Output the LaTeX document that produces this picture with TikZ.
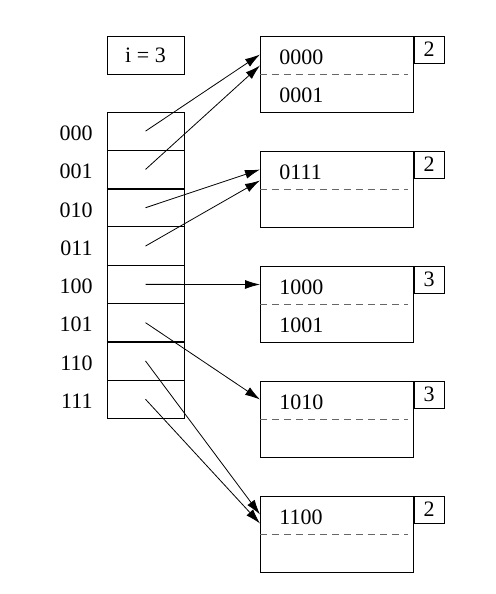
\documentclass[tikz,border=0pt]{standalone}
\usepackage{fontspec}
\setmainfont{Liberation Serif}
\usetikzlibrary{arrows.meta}

\tikzset{
  cell/.style={rectangle,draw=black,line width=0.5pt,minimum width=38.5pt,minimum height=19.15pt,inner sep=0pt},
  bucket/.style={rectangle,draw=black,line width=0.5pt,minimum width=76.25pt,minimum height=38.3pt,inner sep=0pt},
  depth/.style={rectangle,draw=black,line width=0.5pt,minimum width=15pt,minimum height=13.5pt,inner sep=0pt,anchor=north west},
  key/.style={anchor=west,inner sep=0pt},
  sep/.style={draw=black!60,dash pattern=on 3.5pt off 2.5pt,line width=0.6pt},
  ptr/.style={->,line width=0.4pt},
}

\begin{document}
\begin{tikzpicture}[x=0.5pt,y=-0.5pt,>={Latex[length=7.5pt,width=4.5pt]},font=\fontsize{11}{13}\selectfont]
  \useasboundingbox (0,0) rectangle (496,594);
  %Nodes
  \node at (145.5,55) [cell,minimum height=19pt] (global) {i = 3};
  \foreach \k [count=\r from 0] in {000,001,010,011,100,101,110,111} {
    \node at (145.5,131.15+38.3*\r) [cell] (d\k) {};
    \node at (93,133.2+38.3*\r) [anchor=east,inner sep=0pt] (l\k) {\k};
  }
  \draw[line width=1pt] (d001.south west) -- (d001.south east);
  \draw[line width=1pt] (d101.south west) -- (d101.south east);

  \foreach \b/\t/\dp/\ka/\kb in {b1/36/2/0000/0001,b2/151/2/0111/,b3/266/3/1000/1001,b4/381/3/1010/,b5/496/2/1100/} {
    \node at (336.75,\t+38.3) [bucket] (\b) {};
    \node at (\b.north east) [depth] (\b d) {\dp};
    \draw[sep] (\b.west) -- ([xshift=-3pt]\b.east);
    \node at (279,\t+21.5) [key] (\b ka) {\ka};
    \node at (279,\t+59.5) [key] (\b kb) {\kb};
  }

  %Lines
  \draw[ptr] (d000.center) to ([yshift=-9.5pt]b1.north west);
  \draw[ptr] (d001.center) to ([yshift=-15pt]b1.north west);
  \draw[ptr] (d010.center) to ([yshift=-9.5pt]b2.north west);
  \draw[ptr] (d011.center) to ([yshift=-15pt]b2.north west);
  \draw[ptr] (d100.center) to ([yshift=-9.5pt]b3.north west);
  \draw[ptr] (d101.center) to ([yshift=-9.5pt]b4.north west);
  \draw[ptr] (d110.center) to ([yshift=-9.5pt]b5.north west);
  \draw[ptr] (d111.center) to ([yshift=-14pt]b5.north west);
\end{tikzpicture}
\end{document}
